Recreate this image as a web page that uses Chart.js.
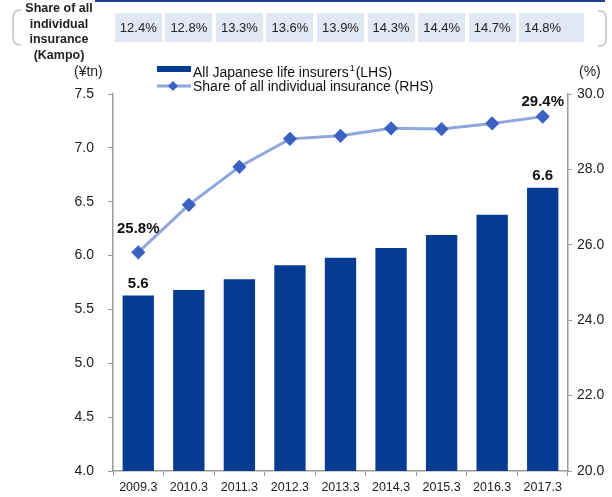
<!DOCTYPE html>
<html>
<head>
<meta charset="utf-8">
<script src="https://cdn.jsdelivr.net/npm/chart.js@4/dist/chart.umd.min.js"></script>
<style>
  body { margin: 0; background: #fff; font-family: Arial, "Liberation Sans", sans-serif; }
  #wrap { position: relative; width: 612px; height: 497px; overflow: hidden; }
  #chart { position: absolute; left: 0; top: 0; }
  .abs { position: absolute; }
  #topline { left: 95px; top: 0; width: 510px; height: 2px; background: #1d3f94; }
  #brl { left: 12px; top: 9px; width: 7px; height: 33px; border: 2px solid #d0d0d0; border-right: none; border-radius: 8px 0 0 8px; }
  #brr { left: 598px; top: 10px; width: 7px; height: 33px; border: 2px solid #d0d0d0; border-left: none; border-radius: 0 7px 7px 0; }
  #head { left: 8px; top: 1px; width: 102px; text-align: center; font-weight: bold; font-size: 12.5px; line-height: 15.5px; color: #222; }
  .box { position: absolute; top: 13px; height: 29px; line-height: 29px; background: #e1e7f3; font-size: 13px; color: #222; }
  .box span { position: absolute; width: 47px; text-align: center; left: 0; }
  .unit { font-size: 14px; color: #222; }
  #legend { left: 157px; top: 59px; font-size: 14px; color: #111; line-height: 18px; }
  .lg { position: relative; height: 18px; padding-left: 36px; white-space: nowrap; }
  .lg sup { font-size: 9px; vertical-align: 6px; margin: 0 1px 0 1px; }
</style>
</head>
<body>
<div id="wrap">
  <canvas id="chart" width="612" height="497"></canvas>
  <div id="topline" class="abs"></div>
  <div id="brl" class="abs"></div>
  <div id="brr" class="abs"></div>
  <div id="head" class="abs">Share of all<br>individual<br>insurance<br>(Kampo)</div>
  <div id="boxes"></div>
  <div class="abs unit" style="left:74px; top:63px;">(¥tn)</div>
  <div class="abs unit" style="left:579px; top:63px;">(%)</div>
  <div id="legend" class="abs">
    <div class="lg"><canvas id="lgBar" width="36" height="18" style="position:absolute;left:0;top:0"></canvas>All Japanese life insurers<sup>1</sup>(LHS)</div>
    <div class="lg"><canvas id="lgLine" width="36" height="18" style="position:absolute;left:0;top:0"></canvas>Share of all individual insurance (RHS)</div>
  </div>
</div>
<script>
// Fiscal year ends
const anos = ['2009.3', '2010.3', '2011.3', '2012.3', '2013.3', '2014.3', '2015.3', '2016.3', '2017.3'];
// Premium income of all Japanese life insurers (¥tn)
const receitaTotal = [5.63, 5.68, 5.78, 5.91, 5.98, 6.07, 6.19, 6.38, 6.63];
// Share of all individual insurance (%)
const participacao = [25.8, 27.06, 28.07, 28.81, 28.89, 29.09, 29.07, 29.22, 29.4];
// Kampo share of all individual insurance (%)
const participacaoKampo = [12.4, 12.8, 13.3, 13.6, 13.9, 14.3, 14.4, 14.7, 14.8];
// Ticks for both axes
const ticksEsq = [4.0, 4.5, 5.0, 5.5, 6.0, 6.5, 7.0, 7.5];
const ticksDir = [20.0, 22.0, 24.0, 26.0, 28.0, 30.0];

const corBarra = '#063b92';
const corLinha = '#8fa7dc';
const corPonto = '#3b62c3';
const corEixo = '#9c9c9c';
const fonte = 'Arial, "Liberation Sans", sans-serif';

// Valores em negrito sobre a primeira e a última barra / ponto
const rotulosPlugin = {
    id: 'rotulos',
    afterDatasetsDraw(chart) {
        const ctx = chart.ctx;
        const x = chart.scales.x, y = chart.scales.y, y2 = chart.scales.y2;
        const ultimo = anos.length - 1;
        ctx.save();
        ctx.font = 'bold 15px ' + fonte;
        ctx.fillStyle = '#111';
        ctx.textAlign = 'center';
        ctx.textBaseline = 'middle';
        [0, ultimo].forEach(i => {
            ctx.fillText(receitaTotal[i].toFixed(1), x.getPixelForValue(i), y.getPixelForValue(receitaTotal[i]) - 12);
        });
        ctx.fillText(participacao[0].toFixed(1) + '%', x.getPixelForValue(0), y2.getPixelForValue(participacao[0]) - 23);
        ctx.fillText(participacao[ultimo].toFixed(1) + '%', x.getPixelForValue(ultimo), y2.getPixelForValue(participacao[ultimo]) - 15);
        ctx.restore();
    }
};

const grafico = new Chart(document.getElementById('chart'), {
    type: 'bar',
    data: {
        labels: anos,
        datasets: [{
            type: 'line',
            label: 'Share of all individual insurance (RHS)',
            data: participacao,
            yAxisID: 'y2',
            borderColor: corLinha,
            borderWidth: 3,
            pointStyle: 'rectRot',
            pointRadius: 5,
            pointBackgroundColor: corPonto,
            pointBorderColor: corPonto,
            tension: 0,
            order: 0
        }, {
            label: 'All Japanese life insurers (LHS)',
            data: receitaTotal,
            yAxisID: 'y',
            backgroundColor: corBarra,
            barPercentage: 0.62,
            categoryPercentage: 1,
            order: 1
        }]
    },
    options: {
        responsive: false,
        animation: false,
        layout: { padding: { left: 0, right: 0, top: 94, bottom: 0 } },
        plugins: {
            legend: { display: false },
            tooltip: { enabled: false }
        },
        scales: {
            x: {
                offset: true,
                grid: { display: true, drawOnChartArea: false, offset: true, tickLength: 5, color: corEixo },
                border: { color: corEixo, width: 1.5 },
                ticks: { color: '#222', font: { size: 12.5, family: fonte }, padding: 4, maxRotation: 0 },
                afterFit(s) { s.height = 26; }
            },
            y: {
                position: 'left',
                min: 4, max: 7.5,
                afterBuildTicks(s) { s.ticks = ticksEsq.map(v => ({ value: v })); },
                grid: { drawOnChartArea: false, tickLength: 5, color: corEixo },
                border: { color: corEixo, width: 1.5 },
                ticks: { color: '#222', font: { size: 14, family: fonte }, padding: 14, callback: v => v.toFixed(1) },
                afterFit(s) { s.width = 113; }
            },
            y2: {
                position: 'right',
                min: 20, max: 30,
                afterBuildTicks(s) { s.ticks = ticksDir.map(v => ({ value: v })); },
                grid: { drawOnChartArea: false, tickLength: 4, color: corEixo },
                border: { color: corEixo, width: 1.5 },
                ticks: { color: '#222', font: { size: 14, family: fonte }, padding: 5, callback: v => v.toFixed(1) },
                afterFit(s) { s.width = 44; }
            }
        }
    },
    plugins: [rotulosPlugin]
});

// Caixas com a participação do Kampo, alinhadas com cada categoria
const caixas = document.getElementById('boxes');
participacaoKampo.forEach((v, i) => {
    const cx = grafico.scales.x.getPixelForValue(i);
    const div = document.createElement('div');
    div.className = 'box';
    div.style.left = (cx - 23.5) + 'px';
    div.style.width = (i === participacaoKampo.length - 1 ? 65 : 47) + 'px';
    div.innerHTML = '<span>' + v.toFixed(1) + '%</span>';
    caixas.appendChild(div);
});

// Símbolos da legenda
const lb = document.getElementById('lgBar').getContext('2d');
lb.fillStyle = corBarra;
lb.fillRect(0, 7, 34, 6);
const ll = document.getElementById('lgLine').getContext('2d');
ll.strokeStyle = corLinha;
ll.lineWidth = 3;
ll.beginPath(); ll.moveTo(0, 9); ll.lineTo(34, 9); ll.stroke();
ll.fillStyle = corPonto;
ll.beginPath(); ll.moveTo(16, 4); ll.lineTo(21, 9); ll.lineTo(16, 14); ll.lineTo(11, 9); ll.closePath(); ll.fill();
</script>
</body>
</html>
